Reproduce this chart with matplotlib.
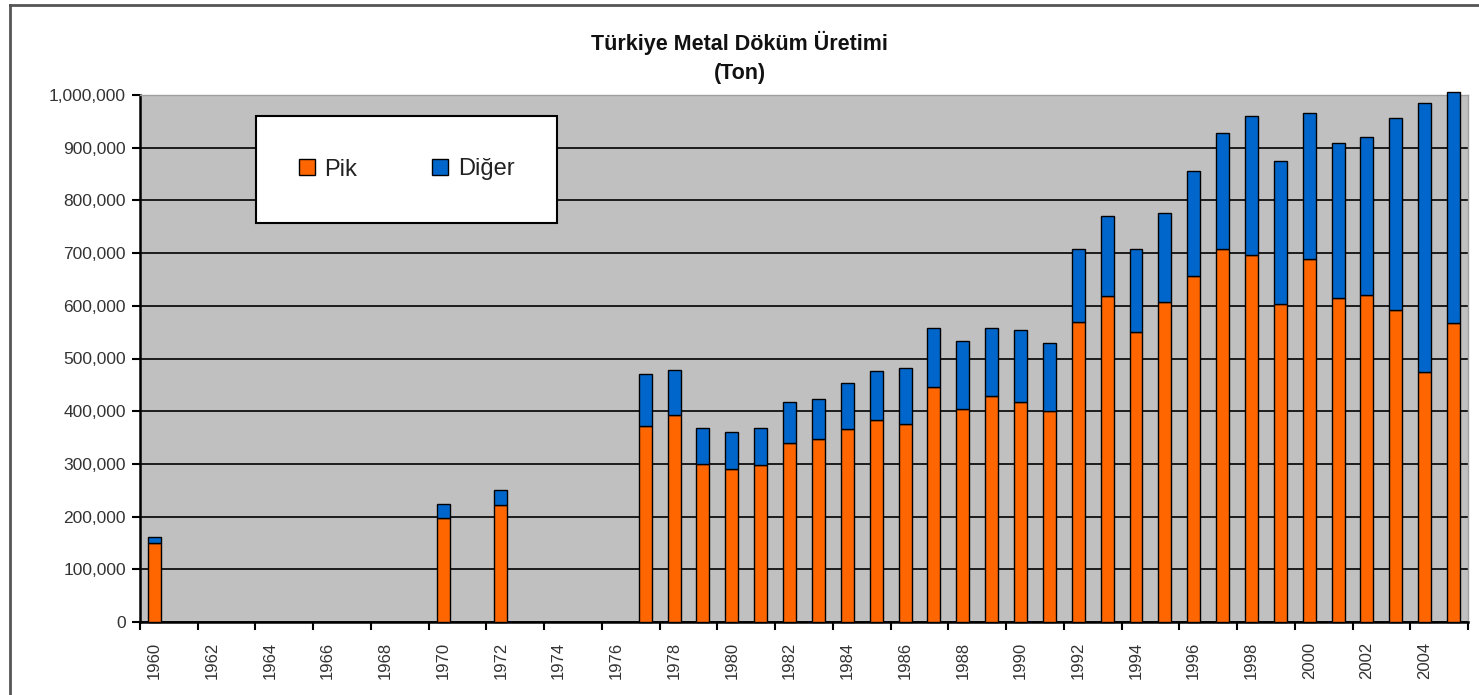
import matplotlib
matplotlib.use('Agg')
import matplotlib.pyplot as plt
from matplotlib.ticker import FuncFormatter, FixedLocator
from matplotlib.lines import Line2D

# ----- Data (ton) -----
years = [1960, 1970, 1972,
         1977, 1978, 1979, 1980, 1981, 1982, 1983, 1984, 1985, 1986,
         1987, 1988, 1989, 1990, 1991, 1992, 1993, 1994, 1995, 1996,
         1997, 1998, 1999, 2000, 2001, 2002, 2003, 2004, 2005]
pik = [149000, 198000, 222000,
       372000, 392000, 299000, 291000, 298000, 339000, 347000, 367000, 383000, 376000,
       445000, 404000, 429000, 417000, 400000, 570000, 619000, 551000, 607000, 656000,
       708000, 696000, 603000, 688000, 615000, 620000, 592000, 474000, 567000]
toplam = [162000, 223000, 250000,
          470000, 478000, 369000, 361000, 369000, 417000, 424000, 453000, 477000, 482000,
          558000, 534000, 558000, 555000, 530000, 708000, 770000, 708000, 777000, 855000,
          928000, 960000, 875000, 965000, 908000, 920000, 956000, 984000, 1006000]
diger = [t - p for t, p in zip(toplam, pik)]

first_year, last_year = 1960, 2005
tick_years = list(range(first_year, last_year + 1, 2))

title = 'Türkiye Metal Döküm Üretimi\n(Ton)'
labels = ['Pik', 'Diğer']
c_pik, c_diger = '#FF6600', '#0066CC'

plt.rcParams['font.family'] = ['Liberation Sans', 'DejaVu Sans']

W, H = 1479, 695
fig = plt.figure(figsize=(W/100, H/100), dpi=100)
# plot area: x 140..1468, y 95..622 (pixels)
ax = fig.add_axes([140/W, (H-622)/H, 1328/W, 527/H])
ax.set_facecolor('#C0C0C0')

pos = [y - first_year for y in years]
w = 0.45
b1 = ax.bar(pos, pik, w, color=c_pik, edgecolor='black', linewidth=1.0, label=labels[0], zorder=3)
b2 = ax.bar(pos, diger, w, bottom=pik, color=c_diger, edgecolor='black', linewidth=1.0,
            label=labels[1], zorder=3)
for r in list(b1) + list(b2):
    r.set_clip_on(False)   # 2005 sticks out a little above the top

ax.set_xlim(-0.5, last_year - first_year + 0.5)
ax.set_ylim(0, 1000000)
ax.set_yticks(range(0, 1000001, 100000))
ax.yaxis.set_major_formatter(FuncFormatter(lambda v, p: f'{int(v):,}'))
ax.yaxis.grid(True, color='black', linewidth=1.2, zorder=1)
ax.set_axisbelow(True)

# labels at category centres, tick marks on every 2nd category boundary
ax.set_xticks([y - first_year for y in tick_years])
ax.set_xticklabels([str(y) for y in tick_years], rotation=90)
ax.xaxis.set_minor_locator(FixedLocator([k - 0.5 for k in range(0, last_year - first_year + 2, 2)]))
ax.tick_params(axis='x', which='major', length=0, pad=14, labelsize=12, labelcolor='#333333')
ax.tick_params(axis='x', which='minor', length=6, width=1.5, direction='out')
ax.tick_params(axis='y', length=6, width=1.5, labelsize=12.5, labelcolor='#333333', pad=4)

for s in ['left', 'bottom']:
    ax.spines[s].set_linewidth(1.8)
for s in ['top', 'right']:
    ax.spines[s].set_color('#A0A0A0')
    ax.spines[s].set_linewidth(1.0)

fig.text(0.5, 1 - 57/H, title, ha='center', va='center', fontsize=15.5,
         fontweight='bold', linespacing=1.5, color='#111111')

leg = ax.legend(ncol=2, loc='upper left', bbox_to_anchor=((256-140)/1328, (622-116)/527),
                bbox_transform=ax.transAxes, fontsize=17, frameon=True, fancybox=False,
                edgecolor='black', framealpha=1, handlelength=0.68, handleheight=0.68,
                handletextpad=0.4, columnspacing=3.2, borderpad=1.8, borderaxespad=0)
leg.get_frame().set_linewidth(1.5)
for t in leg.get_texts():
    t.set_color('#222222')
leg.set_zorder(5)

# figure border (left and top visible)
fig.add_artist(Line2D([10/W, 10/W], [0, 1 - 5/H], color='#555555', linewidth=2,
                      transform=fig.transFigure))
fig.add_artist(Line2D([10/W, 1], [1 - 5/H, 1 - 5/H], color='#555555', linewidth=2,
                      transform=fig.transFigure))

fig.savefig('out.png', dpi=100)
